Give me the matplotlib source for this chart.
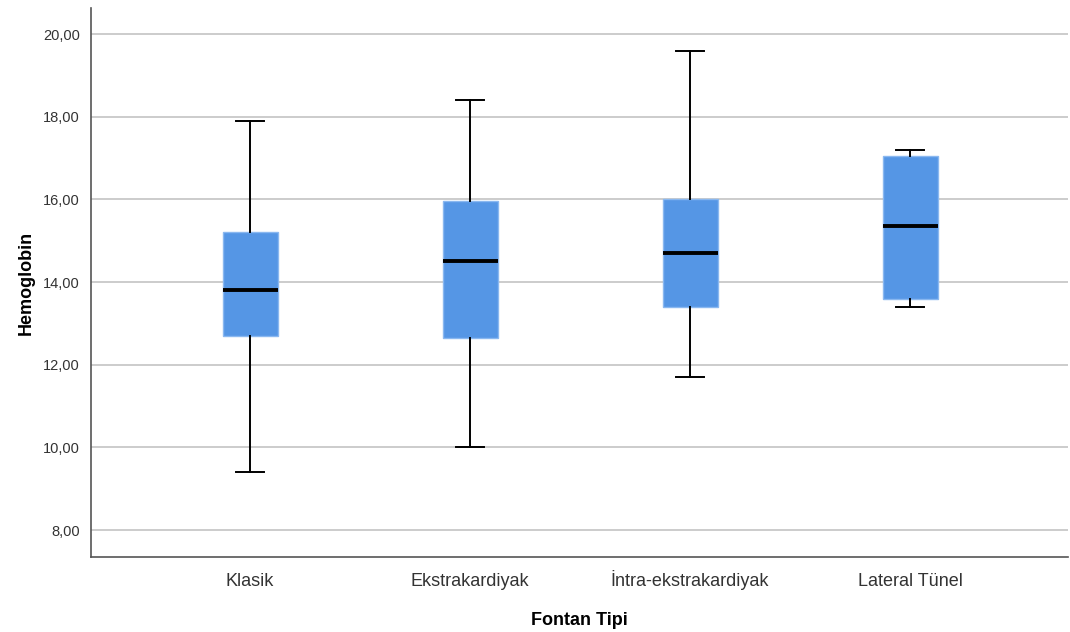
import matplotlib
matplotlib.use("Agg")
import matplotlib.pyplot as plt

plt.rcParams['font.family'] = ['Liberation Sans', 'DejaVu Sans']

# Hemoglobin by Fontan type: whisker ends, quartiles and medians
groups = ["Klasik", "Ekstrakardiyak", "İntra-ekstrakardiyak", "Lateral Tünel"]
whislo = [9.4, 10.0, 11.7, 13.4]
q1 = [12.7, 12.65, 13.4, 13.6]
med = [13.8, 14.5, 14.7, 15.35]
q3 = [15.2, 15.95, 16.0, 17.05]
whishi = [17.9, 18.4, 19.6, 17.2]
yticks = [8, 10, 12, 14, 16, 18, 20]

stats = []
for name, lo, a, m, b, hi in zip(groups, whislo, q1, med, q3, whishi):
    stats.append({"label": name, "whislo": lo, "q1": a, "med": m,
                  "q3": b, "whishi": hi, "fliers": []})

fig = plt.figure(figsize=(10.7, 6.32), dpi=100)
ax = fig.add_axes([91 / 1070, 1 - 557 / 632, 977 / 1070, 549 / 632])

ax.bxp(stats, positions=range(len(groups)), widths=0.25, patch_artist=True,
       boxprops=dict(facecolor="#5596e5", edgecolor="#8ab8f0", linewidth=1),
       medianprops=dict(color="black", linewidth=2.8),
       whiskerprops=dict(color="black", linewidth=1.4),
       capprops=dict(color="black", linewidth=1.4),
       capwidths=0.13)

ax.set_xlim(-0.723, 3.718)
ax.set_ylim(7.35, 20.63)
ax.set_yticks(yticks)
ax.set_yticklabels([f"{v:.2f}".replace(".", ",") for v in yticks])
ax.yaxis.grid(True, color="#c8c8c8", linewidth=1.3)
ax.set_axisbelow(True)

for side in ("top", "right"):
    ax.spines[side].set_visible(False)
for side in ("left", "bottom"):
    ax.spines[side].set_color("#555555")
    ax.spines[side].set_linewidth(1.2)

ax.tick_params(axis="y", length=0, labelsize=10.5, labelcolor="#333333", pad=8)
ax.tick_params(axis="x", length=0, labelsize=13, labelcolor="#333333", pad=21)
# keep all category names on one baseline (the dotted İ is taller)
for lab in ax.get_xticklabels():
    lab.set_verticalalignment("baseline")

ax.set_xlabel("Fontan Tipi", fontsize=13, fontweight="bold", labelpad=16)
ax.set_ylabel("Hemoglobin", fontsize=13, fontweight="bold", labelpad=6)

fig.savefig("out.png", dpi=100)
